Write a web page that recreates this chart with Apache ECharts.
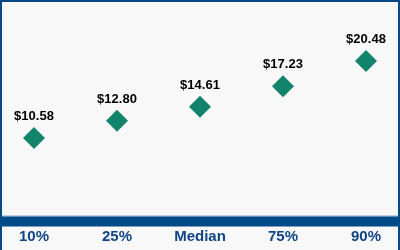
<!DOCTYPE html>
<html>
<head>
<meta charset="utf-8">
<script src="https://cdn.jsdelivr.net/npm/echarts@6/dist/echarts.min.js"></script>
<style>
html,body{margin:0;padding:0;background:#f8f8f8;}
#c{width:400px;height:250px;}
</style>
</head>
<body>
<div id="c"></div>
<script>
var categories = ['10%', '25%', 'Median', '75%', '90%'];
var values = [10.58, 12.80, 14.61, 17.23, 20.48];
var yMin = 0;
var yMax = 25;

var chart = echarts.init(document.getElementById('c'), null, {renderer: 'canvas'});
chart.setOption({
  backgroundColor: '#f8f8f8',
  animation: false,
  grid: {left: -7.5, right: -7.5, top: 26, bottom: 30, containLabel: false, outerBoundsMode: 'none'},
  xAxis: {
    type: 'category',
    data: categories,
    boundaryGap: true,
    axisLine: {show: false},
    axisTick: {show: false},
    axisLabel: {
      margin: 9,
      color: '#0f4585',
      fontFamily: 'Liberation Sans, Arial, sans-serif',
      fontWeight: 'bold',
      fontSize: 15
    }
  },
  yAxis: {
    type: 'value',
    min: yMin,
    max: yMax,
    show: false
  },
  graphic: [
    {type: 'rect', z: 100, shape: {x: 0, y: 215.5, width: 400, height: 1}, style: {fill: '#8eaacb'}},
    {type: 'rect', z: 100, shape: {x: 0, y: 216.5, width: 400, height: 10}, style: {fill: '#004a87'}},
    {type: 'rect', z: 100, shape: {x: 1, y: 1, width: 398, height: 300}, style: {fill: null, stroke: '#004a87', lineWidth: 2}}
  ],
  series: [{
    type: 'scatter',
    data: values,
    symbol: 'diamond',
    symbolSize: 22,
    itemStyle: {color: '#13846c', opacity: 1},
    label: {
      show: true,
      position: 'top',
      distance: 4,
      color: '#000000',
      fontFamily: 'Liberation Sans, Arial, sans-serif',
      fontWeight: 'bold',
      fontSize: 13,
      formatter: function (p) { return '$' + p.value.toFixed(2); }
    }
  }]
});
</script>
</body>
</html>
